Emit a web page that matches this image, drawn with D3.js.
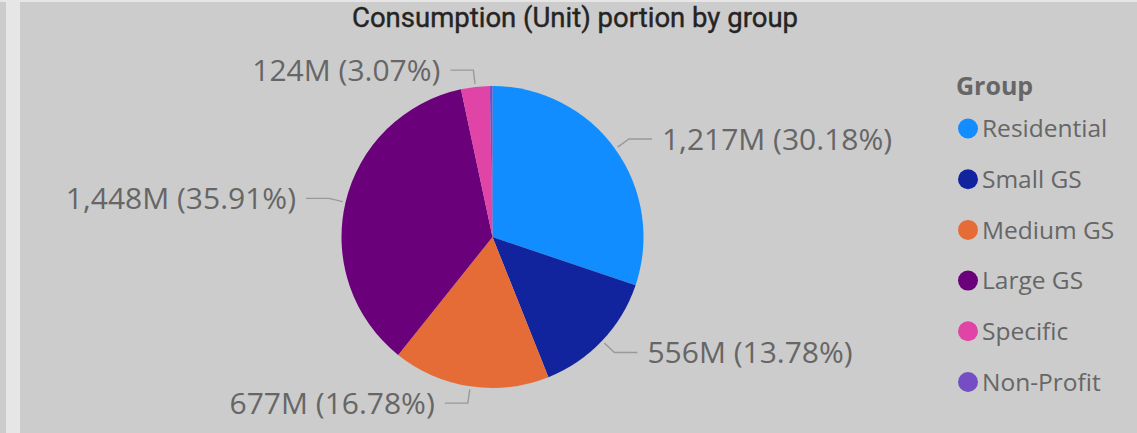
<!DOCTYPE html>
<html>
<head>
<meta charset="utf-8">
<script src="https://cdn.jsdelivr.net/npm/d3@7"></script>
<style>
  html, body { margin: 0; padding: 0; background: #cccccc; }
  svg { display: block; }
</style>
</head>
<body>
<div id="chart"></div>
<script>
"use strict";

// Data
// ----

var groups = ["Residential", "Small GS", "Medium GS", "Large GS", "Specific", "Non-Profit"];
var consumption = [1217.0, 555.7, 676.6, 1448.0, 123.8, 11.3];   // millions of units
var colors = ["#118dff", "#12239e", "#e66c37", "#6b007b", "#e044a7", "#744ec2"];
var labelled = [true, true, true, true, true, false];

var title = "Consumption (Unit) portion by group";
var legendTitle = "Group";


// Box sizing
// ----------

var width = 1137,
    height = 433,
    cx = 492.5,
    cy = 237,
    radius = 151;

var svg = d3.select("#chart").append("svg")
    .attr("width", width)
    .attr("height", height);

// Background and frame strips

svg.append("rect")
    .attr("width", width).attr("height", height)
    .attr("fill", "#cccccc");
svg.append("rect")
    .attr("x", 0).attr("y", 0).attr("width", width).attr("height", 2)
    .attr("fill", "#e6e6e6");
svg.append("rect")
    .attr("x", 6).attr("y", 0).attr("width", 14).attr("height", height)
    .attr("fill", "#e6e6e6");


// Title

svg.append("text")
    .attr("x", 575)
    .attr("y", 27)
    .attr("text-anchor", "middle")
    .style("font-family", "Roboto, 'DejaVu Sans', sans-serif")
    .style("font-size", "27.5px")
    .style("fill", "#252423")
    .style("stroke", "#252423")
    .style("stroke-width", 0.4)
    .text(title);


// Pie

var data = groups.map(function(g, i) {
  return { name: g, value: consumption[i], color: colors[i], label: labelled[i] };
});
var total = d3.sum(consumption);

var pie = d3.pie()
    .sort(null)
    .value(function(d) { return d.value; });

var arcs = pie(data);

var arc = d3.arc().innerRadius(0).outerRadius(radius);

var g = svg.append("g")
    .attr("transform", "translate(" + cx + "," + cy + ")");

g.selectAll("path.slice")
    .data(arcs)
    .enter().append("path")
    .attr("class", "slice")
    .attr("d", arc)
    .attr("fill", function(d) { return d.data.color; });


// Labels with leader lines

var fmtVal = d3.format(",.0f"),
    fmtPct = d3.format(".2%");

function polar(a, r) {
  return [r * Math.sin(a), -r * Math.cos(a)];
}

var lab = g.selectAll("g.lab")
    .data(arcs.filter(function(d) { return d.data.label; }))
    .enter().append("g")
    .attr("class", "lab");

lab.append("polyline")
    .attr("fill", "none")
    .attr("stroke", "#999999")
    .attr("stroke-width", 1.4)
    .attr("points", function(d) {
      var a = (d.startAngle + d.endAngle) / 2,
          p0 = polar(a, radius + 3),
          p1 = polar(a, radius + 17),
          s = Math.sin(a) >= 0 ? 1 : -1,
          p2 = [p1[0] + s * 23, p1[1]];
      return [p0, p1, p2].map(function(p) { return p.join(","); }).join(" ");
    });

lab.append("text")
    .attr("x", function(d) {
      var a = (d.startAngle + d.endAngle) / 2,
          p1 = polar(a, radius + 17),
          s = Math.sin(a) >= 0 ? 1 : -1;
      return p1[0] + s * 33;
    })
    .attr("y", function(d) {
      var a = (d.startAngle + d.endAngle) / 2;
      return polar(a, radius + 17)[1];
    })
    .attr("dy", "0.36em")
    .attr("text-anchor", function(d) {
      var a = (d.startAngle + d.endAngle) / 2;
      return Math.sin(a) >= 0 ? "start" : "end";
    })
    .style("font-family", "'Open Sans', 'Noto Sans', sans-serif")
    .style("font-size", "30px")
    .style("fill", "#666666")
    .text(function(d) {
      return fmtVal(d.data.value) + "M (" + fmtPct(d.data.value / total) + ")";
    });


// Legend

var legend = svg.append("g")
    .attr("transform", "translate(956,0)");

legend.append("text")
    .attr("x", 0)
    .attr("y", 95)
    .style("font-family", "'Open Sans', 'Noto Sans', sans-serif")
    .style("font-size", "25px")
    .style("font-weight", "bold")
    .style("fill", "#666666")
    .text(legendTitle);

var item = legend.selectAll("g.item")
    .data(data)
    .enter().append("g")
    .attr("class", "item")
    .attr("transform", function(d, i) { return "translate(0," + (128.5 + i * 50.7) + ")"; });

item.append("circle")
    .attr("cx", 12)
    .attr("cy", 0)
    .attr("r", 10)
    .attr("fill", function(d) { return d.color; });

item.append("text")
    .attr("x", 26)
    .attr("y", 0)
    .attr("dy", "0.36em")
    .style("font-family", "'Open Sans', 'Noto Sans', sans-serif")
    .style("font-size", "24.5px")
    .style("fill", "#666666")
    .text(function(d) { return d.name; });

</script>
</body>
</html>
